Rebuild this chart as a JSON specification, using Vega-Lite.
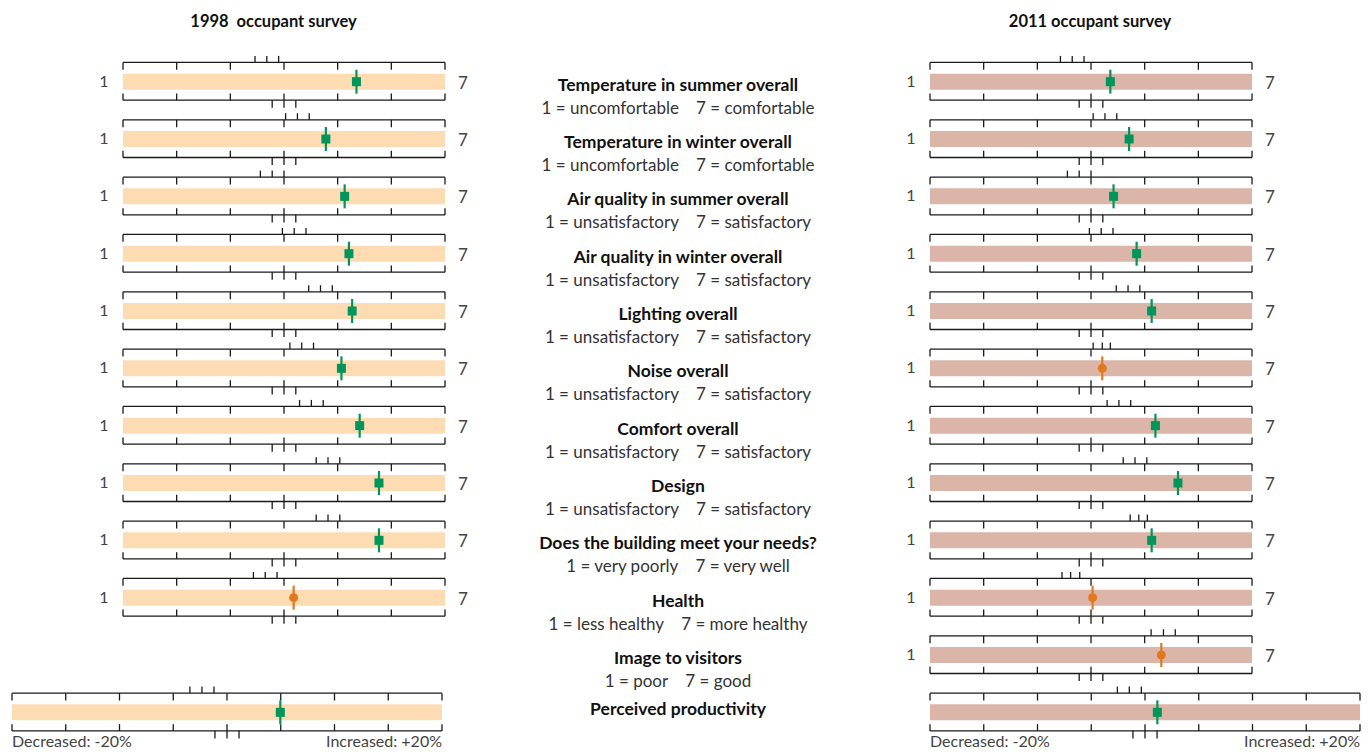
{
"$schema":"https://vega.github.io/schema/vega-lite/v6.json",
"padding":{"left":11,"top":13,"right":10,"bottom":0},
"spacing":0,
"bounds":"flush",
"config":{"view":{"stroke":null},"font":"Lato","title":{"font":"Lato","fontSize":16.5,"fontWeight":"bold","color":"#111","offset":23,"baseline":"alphabetic","frame":"group"}},
"datasets":{
"s1998":[
{"item":"Temperature in summer overall","benchLo":3.46,"bench":3.68,"benchHi":3.90,"score":5.35,"result":"better","refLo":3.78,"ref":4,"refHi":4.22,"ticks":[1,2,3,4,5,6,7]},
{"item":"Temperature in winter overall","benchLo":4.03,"bench":4.25,"benchHi":4.47,"score":4.78,"result":"better","refLo":3.78,"ref":4,"refHi":4.22,"ticks":[1,2,3,4,5,6,7]},
{"item":"Air quality in summer overall","benchLo":3.56,"bench":3.78,"benchHi":4.00,"score":5.13,"result":"better","refLo":3.78,"ref":4,"refHi":4.22,"ticks":[1,2,3,4,5,6,7]},
{"item":"Air quality in winter overall","benchLo":3.97,"bench":4.19,"benchHi":4.41,"score":5.21,"result":"better","refLo":3.78,"ref":4,"refHi":4.22,"ticks":[1,2,3,4,5,6,7]},
{"item":"Lighting overall","benchLo":4.46,"bench":4.68,"benchHi":4.90,"score":5.27,"result":"better","refLo":3.78,"ref":4,"refHi":4.22,"ticks":[1,2,3,4,5,6,7]},
{"item":"Noise overall","benchLo":4.11,"bench":4.33,"benchHi":4.55,"score":5.07,"result":"better","refLo":3.78,"ref":4,"refHi":4.22,"ticks":[1,2,3,4,5,6,7]},
{"item":"Comfort overall","benchLo":4.29,"bench":4.51,"benchHi":4.73,"score":5.41,"result":"better","refLo":3.78,"ref":4,"refHi":4.22,"ticks":[1,2,3,4,5,6,7]},
{"item":"Design","benchLo":4.60,"bench":4.82,"benchHi":5.04,"score":5.77,"result":"better","refLo":3.78,"ref":4,"refHi":4.22,"ticks":[1,2,3,4,5,6,7]},
{"item":"Does the building meet your needs?","benchLo":4.60,"bench":4.82,"benchHi":5.04,"score":5.77,"result":"better","refLo":3.78,"ref":4,"refHi":4.22,"ticks":[1,2,3,4,5,6,7]},
{"item":"Health","benchLo":3.43,"bench":3.65,"benchHi":3.87,"score":4.18,"result":"no difference","refLo":3.78,"ref":4,"refHi":4.22,"ticks":[1,2,3,4,5,6,7]}
],
"s2011":[
{"item":"Temperature in summer overall","benchLo":3.43,"bench":3.65,"benchHi":3.87,"score":4.36,"result":"better","refLo":3.78,"ref":4,"refHi":4.22,"ticks":[1,2,3,4,5,6,7]},
{"item":"Temperature in winter overall","benchLo":4.04,"bench":4.26,"benchHi":4.48,"score":4.71,"result":"better","refLo":3.78,"ref":4,"refHi":4.22,"ticks":[1,2,3,4,5,6,7]},
{"item":"Air quality in summer overall","benchLo":3.56,"bench":3.78,"benchHi":4.00,"score":4.42,"result":"better","refLo":3.78,"ref":4,"refHi":4.22,"ticks":[1,2,3,4,5,6,7]},
{"item":"Air quality in winter overall","benchLo":3.97,"bench":4.19,"benchHi":4.41,"score":4.85,"result":"better","refLo":3.78,"ref":4,"refHi":4.22,"ticks":[1,2,3,4,5,6,7]},
{"item":"Lighting overall","benchLo":4.47,"bench":4.69,"benchHi":4.91,"score":5.13,"result":"better","refLo":3.78,"ref":4,"refHi":4.22,"ticks":[1,2,3,4,5,6,7]},
{"item":"Noise overall","benchLo":4.04,"bench":4.21,"benchHi":4.36,"score":4.21,"result":"no difference","refLo":3.78,"ref":4,"refHi":4.22,"ticks":[1,2,3,4,5,6,7]},
{"item":"Comfort overall","benchLo":4.30,"bench":4.52,"benchHi":4.74,"score":5.20,"result":"better","refLo":3.78,"ref":4,"refHi":4.22,"ticks":[1,2,3,4,5,6,7]},
{"item":"Design","benchLo":4.60,"bench":4.82,"benchHi":5.04,"score":5.62,"result":"better","refLo":3.78,"ref":4,"refHi":4.22,"ticks":[1,2,3,4,5,6,7]},
{"item":"Does the building meet your needs?","benchLo":4.73,"bench":4.89,"benchHi":5.05,"score":5.13,"result":"better","refLo":3.78,"ref":4,"refHi":4.22,"ticks":[1,2,3,4,5,6,7]},
{"item":"Health","benchLo":3.46,"bench":3.62,"benchHi":3.79,"score":4.03,"result":"no difference","refLo":3.78,"ref":4,"refHi":4.22,"ticks":[1,2,3,4,5,6,7]},
{"item":"Image to visitors","benchLo":5.12,"bench":5.35,"benchHi":5.57,"score":5.31,"result":"no difference","refLo":3.78,"ref":4,"refHi":4.22,"ticks":[1,2,3,4,5,6,7]}
],
"p1998":[{"item":"Perceived productivity","benchLo":-3.45,"bench":-2.33,"benchHi":-1.21,"score":4.96,"result":"better","refLo":-1.12,"ref":0,"refHi":1.12,"ticks":[-20,-15,-10,-5,0,5,10,15,20]}],
"p2011":[{"item":"Perceived productivity","benchLo":-2.57,"bench":-1.46,"benchHi":-0.34,"score":1.15,"result":"better","refLo":-1.12,"ref":0,"refHi":1.12,"ticks":[-20,-15,-10,-5,0,5,10,15,20]}],
"labels":[
{"item":"Temperature in summer overall","sub":"1 = uncomfortable\u2003 7 = comfortable"},
{"item":"Temperature in winter overall","sub":"1 = uncomfortable\u2003 7 = comfortable"},
{"item":"Air quality in summer overall","sub":"1 = unsatisfactory\u2003 7 = satisfactory"},
{"item":"Air quality in winter overall","sub":"1 = unsatisfactory\u2003 7 = satisfactory"},
{"item":"Lighting overall","sub":"1 = unsatisfactory\u2003 7 = satisfactory"},
{"item":"Noise overall","sub":"1 = unsatisfactory\u2003 7 = satisfactory"},
{"item":"Comfort overall","sub":"1 = unsatisfactory\u2003 7 = satisfactory"},
{"item":"Design","sub":"1 = unsatisfactory\u2003 7 = satisfactory"},
{"item":"Does the building meet your needs?","sub":"1 = very poorly\u2003 7 = very well"},
{"item":"Health","sub":"1 = less healthy\u2003 7 = more healthy"},
{"item":"Image to visitors","sub":"1 = poor\u2003 7 = good"},
{"item":"Perceived productivity","sub":""}
]
},
"hconcat":[
{
"width":433,"height":688,
"title":{"text":"1998\u00a0 occupant survey","dx":45},
"layer":[
{"data":{"name":"s1998"},
"encoding":{"y":{"field":"item","type":"nominal","scale":{"type":"point","padding":0.5,"domain":["Temperature in summer overall","Temperature in winter overall","Air quality in summer overall","Air quality in winter overall","Lighting overall","Noise overall","Comfort overall","Design","Does the building meet your needs?","Health","Image to visitors","Perceived productivity"]},"axis":null}},
"layer":[
{"mark":{"type":"bar","size":16,"color":"#FDDCB4"},"encoding":{"x":{"datum":1,"type":"quantitative","scale":{"domain":[-1.0683,7],"nice":false,"zero":false},"axis":null},"x2":{"datum":7}}},
{"mark":{"type":"rule","color":"#1a1a1a","strokeWidth":1.3,"yOffset":-19.2},"encoding":{"x":{"datum":1,"type":"quantitative","scale":{"domain":[-1.0683,7],"nice":false,"zero":false},"axis":null},"x2":{"datum":7}}},
{"mark":{"type":"rule","color":"#1a1a1a","strokeWidth":1.3,"yOffset":18.5},"encoding":{"x":{"datum":1,"type":"quantitative","scale":{"domain":[-1.0683,7],"nice":false,"zero":false},"axis":null},"x2":{"datum":7}}},
{"transform":[{"flatten":["ticks"]}],"mark":{"type":"tick","color":"#1a1a1a","opacity":1,"thickness":1.3,"size":7.4,"yOffset":-15.5},"encoding":{"x":{"field":"ticks","type":"quantitative","scale":{"domain":[-1.0683,7],"nice":false,"zero":false},"axis":null}}},
{"transform":[{"flatten":["ticks"]}],"mark":{"type":"tick","color":"#1a1a1a","opacity":1,"thickness":1.3,"size":6.8,"yOffset":15.2},"encoding":{"x":{"field":"ticks","type":"quantitative","scale":{"domain":[-1.0683,7],"nice":false,"zero":false},"axis":null}}},
{"transform":[{"fold":["benchLo","bench","benchHi"],"as":["key","v"]}],"mark":{"type":"tick","color":"#1a1a1a","opacity":1,"thickness":1.3,"size":6.5,"yOffset":-22.5},"encoding":{"x":{"field":"v","type":"quantitative","scale":{"domain":[-1.0683,7],"nice":false,"zero":false},"axis":null}}},
{"transform":[{"fold":["refLo","ref","refHi"],"as":["key","v"]}],"mark":{"type":"tick","color":"#1a1a1a","opacity":1,"thickness":1.3,"size":7.6,"yOffset":22.3},"encoding":{"x":{"field":"v","type":"quantitative","scale":{"domain":[-1.0683,7],"nice":false,"zero":false},"axis":null}}},
{"mark":{"type":"tick","opacity":1,"thickness":2.2,"size":24},"encoding":{"x":{"field":"score","type":"quantitative","scale":{"domain":[-1.0683,7],"nice":false,"zero":false},"axis":null},"color":{"field":"result","type":"nominal","scale":{"domain":["better","no difference"],"range":["#00955A","#E2791F"]},"legend":null}}},
{"mark":{"type":"point","filled":true,"opacity":1,"size":81},"encoding":{"x":{"field":"score","type":"quantitative","scale":{"domain":[-1.0683,7],"nice":false,"zero":false},"axis":null},"color":{"field":"result","type":"nominal","scale":{"domain":["better","no difference"],"range":["#00955A","#E2791F"]},"legend":null},"shape":{"field":"result","type":"nominal","scale":{"domain":["better","no difference"],"range":["square","circle"]},"legend":null}}},
{"mark":{"type":"text","text":"1","dx":-19,"fontSize":16,"color":"#444","baseline":"middle"},"encoding":{"x":{"datum":1,"type":"quantitative","scale":{"domain":[-1.0683,7],"nice":false,"zero":false},"axis":null}}},
{"mark":{"type":"text","text":"7","dx":18,"fontSize":17,"color":"#444","baseline":"middle","dy":2}, "encoding":{"x":{"datum":7,"type":"quantitative","scale":{"domain":[-1.0683,7],"nice":false,"zero":false},"axis":null}}}
]},
{"data":{"name":"p1998"},
"encoding":{"y":{"field":"item","type":"nominal","scale":{"type":"point","padding":0.5,"domain":["Temperature in summer overall","Temperature in winter overall","Air quality in summer overall","Air quality in winter overall","Lighting overall","Noise overall","Comfort overall","Design","Does the building meet your needs?","Health","Image to visitors","Perceived productivity"]},"axis":null}},
"layer":[
{"mark":{"type":"bar","size":16,"color":"#FDDCB4"},"encoding":{"x":{"datum":-20,"type":"quantitative","scale":{"domain":[-20,20.28],"nice":false,"zero":false},"axis":null},"x2":{"datum":20}}},
{"mark":{"type":"rule","color":"#1a1a1a","strokeWidth":1.3,"yOffset":-19.2},"encoding":{"x":{"datum":-20,"type":"quantitative","scale":{"domain":[-20,20.28],"nice":false,"zero":false},"axis":null},"x2":{"datum":20}}},
{"mark":{"type":"rule","color":"#1a1a1a","strokeWidth":1.3,"yOffset":18.5},"encoding":{"x":{"datum":-20,"type":"quantitative","scale":{"domain":[-20,20.28],"nice":false,"zero":false},"axis":null},"x2":{"datum":20}}},
{"transform":[{"flatten":["ticks"]}],"mark":{"type":"tick","color":"#1a1a1a","opacity":1,"thickness":1.3,"size":7.4,"yOffset":-15.5},"encoding":{"x":{"field":"ticks","type":"quantitative","scale":{"domain":[-20,20.28],"nice":false,"zero":false},"axis":null}}},
{"transform":[{"flatten":["ticks"]}],"mark":{"type":"tick","color":"#1a1a1a","opacity":1,"thickness":1.3,"size":6.8,"yOffset":15.2},"encoding":{"x":{"field":"ticks","type":"quantitative","scale":{"domain":[-20,20.28],"nice":false,"zero":false},"axis":null}}},
{"transform":[{"fold":["benchLo","bench","benchHi"],"as":["key","v"]}],"mark":{"type":"tick","color":"#1a1a1a","opacity":1,"thickness":1.3,"size":6.5,"yOffset":-22.5},"encoding":{"x":{"field":"v","type":"quantitative","scale":{"domain":[-20,20.28],"nice":false,"zero":false},"axis":null}}},
{"transform":[{"fold":["refLo","ref","refHi"],"as":["key","v"]}],"mark":{"type":"tick","color":"#1a1a1a","opacity":1,"thickness":1.3,"size":7.6,"yOffset":22.3},"encoding":{"x":{"field":"v","type":"quantitative","scale":{"domain":[-20,20.28],"nice":false,"zero":false},"axis":null}}},
{"mark":{"type":"tick","opacity":1,"thickness":2.2,"size":24},"encoding":{"x":{"field":"score","type":"quantitative","scale":{"domain":[-20,20.28],"nice":false,"zero":false},"axis":null},"color":{"field":"result","type":"nominal","scale":{"domain":["better","no difference"],"range":["#00955A","#E2791F"]},"legend":null}}},
{"mark":{"type":"point","filled":true,"opacity":1,"size":81},"encoding":{"x":{"field":"score","type":"quantitative","scale":{"domain":[-20,20.28],"nice":false,"zero":false},"axis":null},"color":{"field":"result","type":"nominal","scale":{"domain":["better","no difference"],"range":["#00955A","#E2791F"]},"legend":null},"shape":{"field":"result","type":"nominal","scale":{"domain":["better","no difference"],"range":["square","circle"]},"legend":null}}},
{"mark":{"type":"text","text":"Decreased: -20%","align":"left","dy":35,"baseline":"alphabetic","fontSize":16,"color":"#444"},"encoding":{"x":{"datum":-20,"type":"quantitative","scale":{"domain":[-20,20.28],"nice":false,"zero":false},"axis":null}}},
{"mark":{"type":"text","text":"Increased: +20%","align":"right","dy":35,"baseline":"alphabetic","fontSize":16,"color":"#444"},"encoding":{"x":{"datum":20,"type":"quantitative","scale":{"domain":[-20,20.28],"nice":false,"zero":false},"axis":null}}}
]}
],
"resolve":{"scale":{"x":"independent"}}
},
{
"width":485,"height":688,
"data":{"name":"labels"},
"encoding":{"y":{"field":"item","type":"nominal","scale":{"type":"point","padding":0.5,"domain":["Temperature in summer overall","Temperature in winter overall","Air quality in summer overall","Air quality in winter overall","Lighting overall","Noise overall","Comfort overall","Design","Does the building meet your needs?","Health","Image to visitors","Perceived productivity"]},"axis":null}},
"layer":[
{"transform":[{"filter":"datum.sub != ''"}],"mark":{"type":"text","fontWeight":"bold","fontSize":17.5,"dx":-9.5,"dy":9,"baseline":"alphabetic","color":"#111"},"encoding":{"text":{"field":"item"}}},
{"transform":[{"filter":"datum.sub != ''"}],"mark":{"type":"text","fontSize":17,"dx":-9.5,"dy":32,"baseline":"alphabetic","color":"#333"},"encoding":{"text":{"field":"sub"}}},
{"transform":[{"filter":"datum.sub == ''"}],"mark":{"type":"text","fontWeight":"bold","fontSize":17.5,"dx":-9.5,"dy":3,"baseline":"alphabetic","color":"#111"},"encoding":{"text":{"field":"item"}}}
]
},
{
"width":430,"height":688,
"title":{"text":"2011 occupant survey","dx":-55},
"layer":[
{"data":{"name":"s2011"},
"encoding":{"y":{"field":"item","type":"nominal","scale":{"type":"point","padding":0.5,"domain":["Temperature in summer overall","Temperature in winter overall","Air quality in summer overall","Air quality in winter overall","Lighting overall","Noise overall","Comfort overall","Design","Does the building meet your needs?","Health","Image to visitors","Perceived productivity"]},"axis":null}},
"layer":[
{"mark":{"type":"bar","size":16,"color":"#DBB5A8"},"encoding":{"x":{"datum":1,"type":"quantitative","scale":{"domain":[1,9.012],"nice":false,"zero":false},"axis":null},"x2":{"datum":7}}},
{"mark":{"type":"rule","color":"#1a1a1a","strokeWidth":1.3,"yOffset":-19.2},"encoding":{"x":{"datum":1,"type":"quantitative","scale":{"domain":[1,9.012],"nice":false,"zero":false},"axis":null},"x2":{"datum":7}}},
{"mark":{"type":"rule","color":"#1a1a1a","strokeWidth":1.3,"yOffset":18.5},"encoding":{"x":{"datum":1,"type":"quantitative","scale":{"domain":[1,9.012],"nice":false,"zero":false},"axis":null},"x2":{"datum":7}}},
{"transform":[{"flatten":["ticks"]}],"mark":{"type":"tick","color":"#1a1a1a","opacity":1,"thickness":1.3,"size":7.4,"yOffset":-15.5},"encoding":{"x":{"field":"ticks","type":"quantitative","scale":{"domain":[1,9.012],"nice":false,"zero":false},"axis":null}}},
{"transform":[{"flatten":["ticks"]}],"mark":{"type":"tick","color":"#1a1a1a","opacity":1,"thickness":1.3,"size":6.8,"yOffset":15.2},"encoding":{"x":{"field":"ticks","type":"quantitative","scale":{"domain":[1,9.012],"nice":false,"zero":false},"axis":null}}},
{"transform":[{"fold":["benchLo","bench","benchHi"],"as":["key","v"]}],"mark":{"type":"tick","color":"#1a1a1a","opacity":1,"thickness":1.3,"size":6.5,"yOffset":-22.5},"encoding":{"x":{"field":"v","type":"quantitative","scale":{"domain":[1,9.012],"nice":false,"zero":false},"axis":null}}},
{"transform":[{"fold":["refLo","ref","refHi"],"as":["key","v"]}],"mark":{"type":"tick","color":"#1a1a1a","opacity":1,"thickness":1.3,"size":7.6,"yOffset":22.3},"encoding":{"x":{"field":"v","type":"quantitative","scale":{"domain":[1,9.012],"nice":false,"zero":false},"axis":null}}},
{"mark":{"type":"tick","opacity":1,"thickness":2.2,"size":24},"encoding":{"x":{"field":"score","type":"quantitative","scale":{"domain":[1,9.012],"nice":false,"zero":false},"axis":null},"color":{"field":"result","type":"nominal","scale":{"domain":["better","no difference"],"range":["#00955A","#E2791F"]},"legend":null}}},
{"mark":{"type":"point","filled":true,"opacity":1,"size":81},"encoding":{"x":{"field":"score","type":"quantitative","scale":{"domain":[1,9.012],"nice":false,"zero":false},"axis":null},"color":{"field":"result","type":"nominal","scale":{"domain":["better","no difference"],"range":["#00955A","#E2791F"]},"legend":null},"shape":{"field":"result","type":"nominal","scale":{"domain":["better","no difference"],"range":["square","circle"]},"legend":null}}},
{"mark":{"type":"text","text":"1","dx":-19,"fontSize":16,"color":"#444","baseline":"middle"},"encoding":{"x":{"datum":1,"type":"quantitative","scale":{"domain":[1,9.012],"nice":false,"zero":false},"axis":null}}},
{"mark":{"type":"text","text":"7","dx":18,"fontSize":17,"color":"#444","baseline":"middle","dy":2},"encoding":{"x":{"datum":7,"type":"quantitative","scale":{"domain":[1,9.012],"nice":false,"zero":false},"axis":null}}}
]},
{"data":{"name":"p2011"},
"encoding":{"y":{"field":"item","type":"nominal","scale":{"type":"point","padding":0.5,"domain":["Temperature in summer overall","Temperature in winter overall","Air quality in summer overall","Air quality in winter overall","Lighting overall","Noise overall","Comfort overall","Design","Does the building meet your needs?","Health","Image to visitors","Perceived productivity"]},"axis":null}},
"layer":[
{"mark":{"type":"bar","size":16,"color":"#DBB5A8"},"encoding":{"x":{"datum":-20,"type":"quantitative","scale":{"domain":[-20,20],"nice":false,"zero":false},"axis":null},"x2":{"datum":20}}},
{"mark":{"type":"rule","color":"#1a1a1a","strokeWidth":1.3,"yOffset":-19.2},"encoding":{"x":{"datum":-20,"type":"quantitative","scale":{"domain":[-20,20],"nice":false,"zero":false},"axis":null},"x2":{"datum":20}}},
{"mark":{"type":"rule","color":"#1a1a1a","strokeWidth":1.3,"yOffset":18.5},"encoding":{"x":{"datum":-20,"type":"quantitative","scale":{"domain":[-20,20],"nice":false,"zero":false},"axis":null},"x2":{"datum":20}}},
{"transform":[{"flatten":["ticks"]}],"mark":{"type":"tick","color":"#1a1a1a","opacity":1,"thickness":1.3,"size":7.4,"yOffset":-15.5},"encoding":{"x":{"field":"ticks","type":"quantitative","scale":{"domain":[-20,20],"nice":false,"zero":false},"axis":null}}},
{"transform":[{"flatten":["ticks"]}],"mark":{"type":"tick","color":"#1a1a1a","opacity":1,"thickness":1.3,"size":6.8,"yOffset":15.2},"encoding":{"x":{"field":"ticks","type":"quantitative","scale":{"domain":[-20,20],"nice":false,"zero":false},"axis":null}}},
{"transform":[{"fold":["benchLo","bench","benchHi"],"as":["key","v"]}],"mark":{"type":"tick","color":"#1a1a1a","opacity":1,"thickness":1.3,"size":6.5,"yOffset":-22.5},"encoding":{"x":{"field":"v","type":"quantitative","scale":{"domain":[-20,20],"nice":false,"zero":false},"axis":null}}},
{"transform":[{"fold":["refLo","ref","refHi"],"as":["key","v"]}],"mark":{"type":"tick","color":"#1a1a1a","opacity":1,"thickness":1.3,"size":7.6,"yOffset":22.3},"encoding":{"x":{"field":"v","type":"quantitative","scale":{"domain":[-20,20],"nice":false,"zero":false},"axis":null}}},
{"mark":{"type":"tick","opacity":1,"thickness":2.2,"size":24},"encoding":{"x":{"field":"score","type":"quantitative","scale":{"domain":[-20,20],"nice":false,"zero":false},"axis":null},"color":{"field":"result","type":"nominal","scale":{"domain":["better","no difference"],"range":["#00955A","#E2791F"]},"legend":null}}},
{"mark":{"type":"point","filled":true,"opacity":1,"size":81},"encoding":{"x":{"field":"score","type":"quantitative","scale":{"domain":[-20,20],"nice":false,"zero":false},"axis":null},"color":{"field":"result","type":"nominal","scale":{"domain":["better","no difference"],"range":["#00955A","#E2791F"]},"legend":null},"shape":{"field":"result","type":"nominal","scale":{"domain":["better","no difference"],"range":["square","circle"]},"legend":null}}},
{"mark":{"type":"text","text":"Decreased: -20%","align":"left","dy":35,"baseline":"alphabetic","fontSize":16,"color":"#444"},"encoding":{"x":{"datum":-20,"type":"quantitative","scale":{"domain":[-20,20],"nice":false,"zero":false},"axis":null}}},
{"mark":{"type":"text","text":"Increased: +20%","align":"right","dy":35,"baseline":"alphabetic","fontSize":16,"color":"#444"},"encoding":{"x":{"datum":20,"type":"quantitative","scale":{"domain":[-20,20],"nice":false,"zero":false},"axis":null}}}
]}
],
"resolve":{"scale":{"x":"independent"}}
}
]
}
